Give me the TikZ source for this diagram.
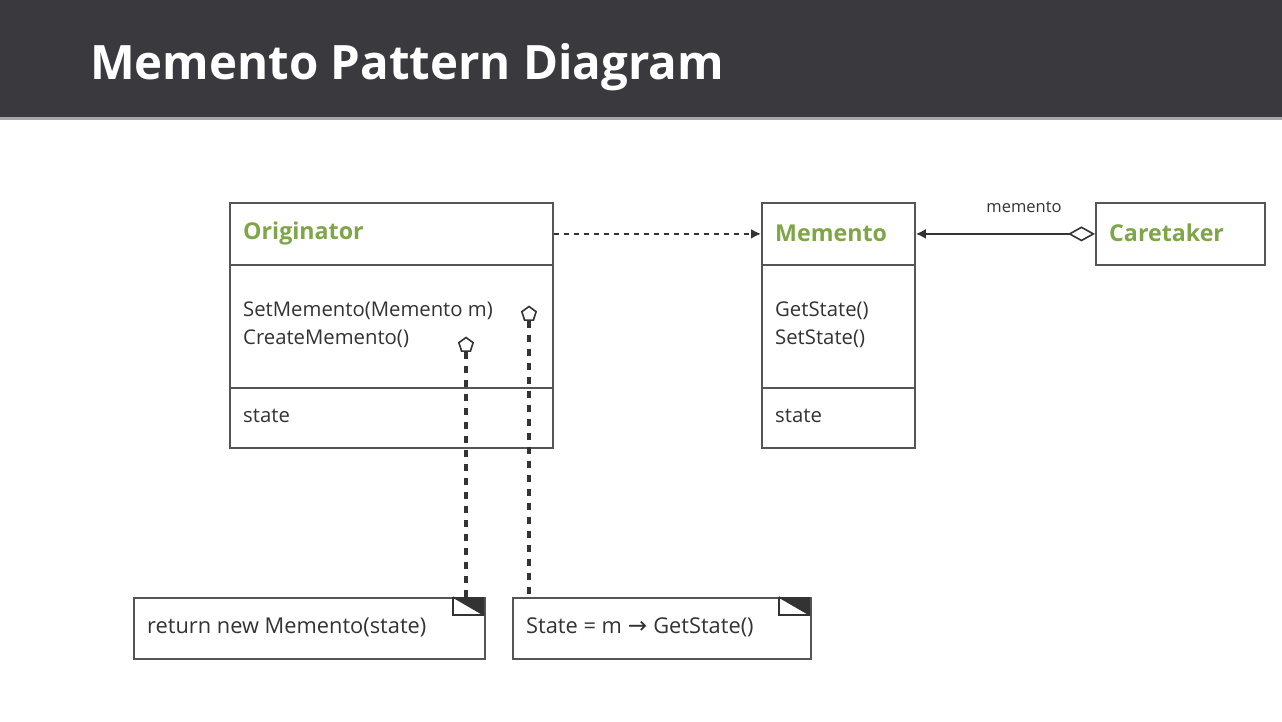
\documentclass[tikz,border=0pt]{standalone}
\usepackage{fontspec}
\setmainfont{Open Sans}
\newfontfamily\titlefont{Open Sans}
\newfontfamily\symfont{DejaVu Sans}
\usetikzlibrary{arrows.meta,shapes.geometric}
\definecolor{band}{HTML}{3A393E}
\definecolor{umlgreen}{HTML}{7EA646}
\definecolor{txt}{HTML}{333333}
\definecolor{edge}{HTML}{555555}
\tikzset{
  part/.style={draw=edge, line width=1.8pt, anchor=north west, inner sep=0pt, fill=white},
  cname/.style={anchor=west, text=umlgreen, font=\fontsize{23.2}{26}\selectfont\bfseries, inner sep=0pt},
  member/.style={anchor=west, text=txt, font=\fontsize{20.3}{28}\selectfont, inner sep=0pt, align=left},
  notetext/.style={anchor=west, text=txt, font=\fontsize{21.8}{28}\selectfont, inner sep=0pt},
  pent/.style={regular polygon, regular polygon sides=5, draw=txt, line width=1.6pt, minimum size=15pt, inner sep=0pt, fill=white},
  link/.style={draw=txt, line width=3.2pt, dash pattern=on 7pt off 7pt},
  fold/.style={draw=txt, line width=1.5pt}
}
\begin{document}
\begin{tikzpicture}[x=1pt,y=-1pt]
\useasboundingbox (0,0) rectangle (1282,722);
\fill[white] (0,0) rectangle (1282,722);
\fill[band] (0,0) rectangle (1282,118);
\fill[gray!70] (0,117) rectangle (1282,120);
\node[anchor=base west, text=white, font=\titlefont\fontsize{47.4}{56}\selectfont\bfseries, inner sep=0pt] (title) at (90,80) {Memento Pattern Diagram};

% Originator
\node[part, minimum width=323pt, minimum height=62pt] (origH) at (229,202) {};
\node[part, minimum width=323pt, minimum height=123pt] (origM) at (229,264) {};
\node[part, minimum width=323pt, minimum height=60pt] (origS) at (229,387) {};
\node[cname] (origT) at (243,233) {Originator};
\node[member] (origM1) at (243,311) {SetMemento(Memento m)};
\node[member] (origM2) at (243,339) {CreateMemento()};
\node[member] (origA) at (243,416) {state};

% Memento
\node[part, minimum width=153pt, minimum height=62pt] (memH) at (761,202) {};
\node[part, minimum width=153pt, minimum height=123pt] (memM) at (761,264) {};
\node[part, minimum width=153pt, minimum height=60pt] (memS) at (761,387) {};
\node[cname] (memT) at (775,233) {Memento};
\node[member] (memM1) at (775,311) {GetState()};
\node[member] (memM2) at (775,339) {SetState()};
\node[member] (memA) at (775,416) {state};

% Caretaker
\node[part, minimum width=169pt, minimum height=62pt] (careH) at (1095,202) {};
\node[cname] (careT) at (1109,233) {Caretaker};

% connectors
\draw[draw=txt, line width=2.2pt, dash pattern=on 5pt off 5pt, -{Latex[length=10pt,width=10pt]}] (origH.east) -- (memH.west);
\draw[draw=txt, line width=2.2pt, {Diamond[open,fill=white,length=27pt,width=15pt,line width=1.6pt]}-{Latex[length=10pt,width=10pt]}] (careH.west) -- (memH.east);
\node[text=txt, font=\fontsize{16.5}{18}\selectfont, inner sep=0pt, anchor=base] (lbl) at (1024,212) {memento};

% notes
\node[part, minimum width=351pt, minimum height=61pt] (note1) at (133,597) {};
\node[notetext] (note1T) at (147,627) {return new Memento(state)};
\node[part, minimum width=298pt, minimum height=61pt] (note2) at (512,597) {};
\node[notetext] (note2T) at (526,627) {State = m\hspace{6pt}{\symfont\fontsize{23}{24}\selectfont →}\hspace{6pt}GetState()};

\fill[txt] (453,597) -- (484,597) -- (484,615) -- cycle;
\draw[fold] (453,597) -- (453,615) -- (484,615);
\draw[fold] (453,597) -- (484,615);
\fill[txt] (779,597) -- (810,597) -- (810,615) -- cycle;
\draw[fold] (779,597) -- (779,615) -- (810,615);
\draw[fold] (779,597) -- (810,615);

% pentagons and dashed links
\node[pent] (p1) at (466,345) {};
\node[pent] (p2) at (529,314) {};
\draw[link] (p1.south) -- (p1.south |- note1.north);
\draw[link] (p2.south) -- (p2.south |- note2.north);
\end{tikzpicture}
\end{document}
